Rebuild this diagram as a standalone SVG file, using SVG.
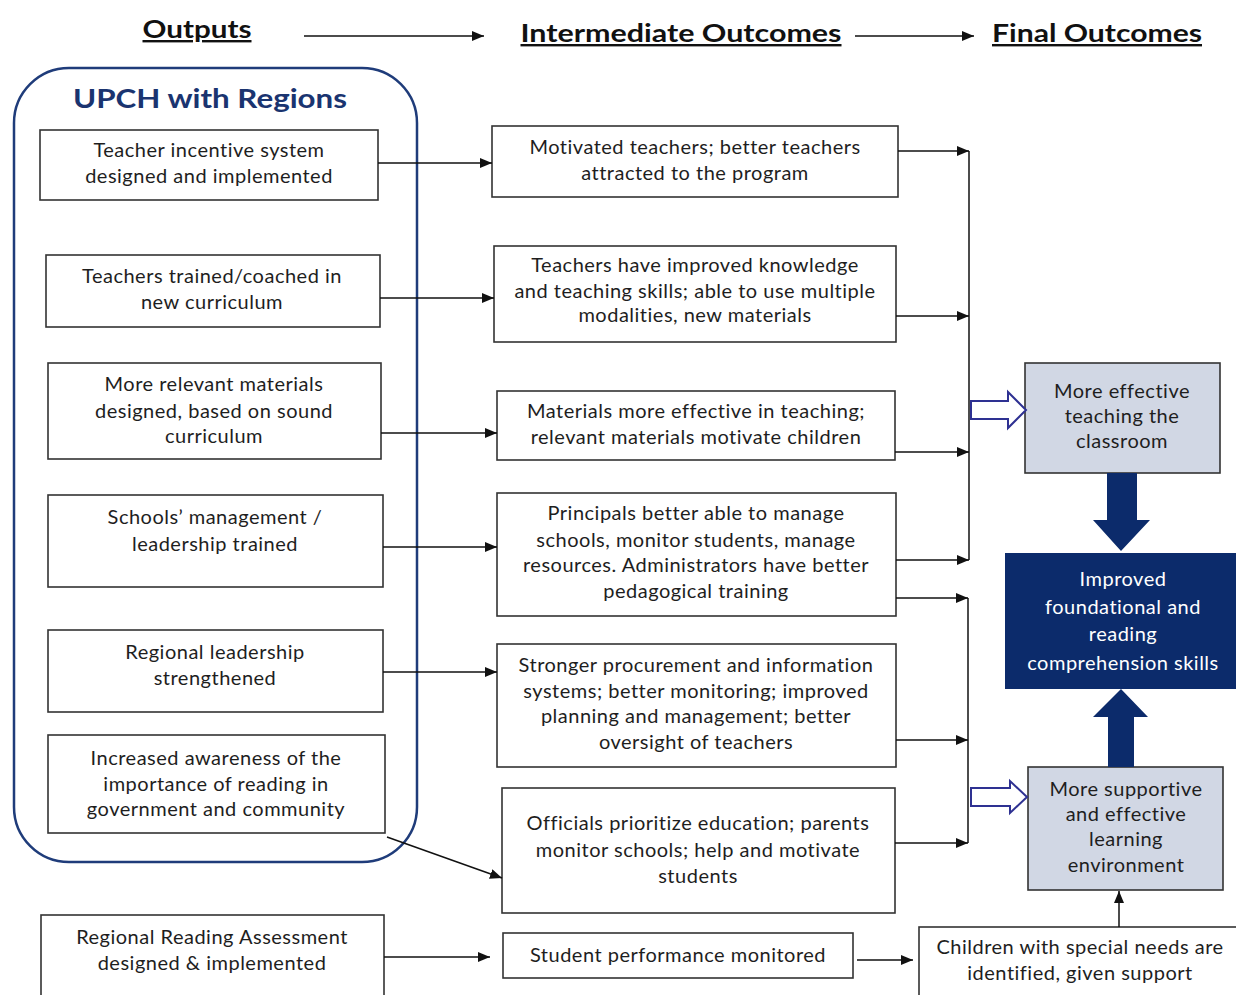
<svg xmlns="http://www.w3.org/2000/svg" width="1236" height="995" viewBox="0 0 1236 995">
<defs>
<marker id="ah" viewBox="0 0 12 10" refX="12" refY="5" markerWidth="12" markerHeight="10" markerUnits="userSpaceOnUse" orient="auto"><path d="M0,0 L12,5 L0,10 z" fill="#111"/></marker>
<style>
.box{fill:#fff;stroke:#333;stroke-width:1.6}
.t{font-family:Lato,"Open Sans","Liberation Sans",sans-serif;font-size:20px;letter-spacing:0.5px;fill:#1e1e1e;text-anchor:middle}
.hd{font-family:Lato,"Open Sans","Liberation Sans",sans-serif;font-size:24px;font-weight:bold;fill:#111;text-anchor:middle;text-decoration:underline}
.c{stroke:#111;stroke-width:1.5;fill:none;marker-end:url(#ah)}
.bus{stroke:#111;stroke-width:1.5;fill:none}
.fin{fill:#d1d7e4;stroke:#333;stroke-width:1.6}
.dark{fill:#0c2b6b}
.hollow{fill:#fff;stroke:#2e3192;stroke-width:2}
.w{fill:#fff}
</style>
</defs>
<rect width="1236" height="995" fill="#fff"/>

<g id="headers">
<text class="hd" x="197" y="38" textLength="109" lengthAdjust="spacingAndGlyphs">Outputs</text>
<text class="hd" x="681" y="42" textLength="321" lengthAdjust="spacingAndGlyphs">Intermediate Outcomes</text>
<text class="hd" x="1097" y="42" textLength="210" lengthAdjust="spacingAndGlyphs">Final Outcomes</text>
</g>

<g id="upch">
<rect x="14" y="68" width="403" height="794" rx="55" ry="55" fill="none" stroke="#1f3c7a" stroke-width="2.5"/>
<text x="210" y="108" font-family="Lato,'Open Sans','Liberation Sans',sans-serif" font-size="27" font-weight="bold" fill="#1a3470" text-anchor="middle" textLength="274" lengthAdjust="spacingAndGlyphs">UPCH with Regions</text>
</g>

<g id="out1"><rect class="box" x="40" y="130" width="338" height="70"/>
<text class="t" x="209" y="157">Teacher incentive system</text><text class="t" x="209" y="183">designed and implemented</text></g>
<g id="out2"><rect class="box" x="46" y="255" width="334" height="72"/>
<text class="t" x="212" y="283">Teachers trained/coached in</text><text class="t" x="212" y="309">new curriculum</text></g>
<g id="out3"><rect class="box" x="48" y="363" width="333" height="96"/>
<text class="t" x="214" y="391">More relevant materials</text><text class="t" x="214" y="418">designed, based on sound</text><text class="t" x="214" y="443">curriculum</text></g>
<g id="out4"><rect class="box" x="48" y="495" width="335" height="92"/>
<text class="t" x="215" y="524">Schools’ management /</text><text class="t" x="215" y="551">leadership trained</text></g>
<g id="out5"><rect class="box" x="48" y="630" width="335" height="82"/>
<text class="t" x="215" y="659">Regional leadership</text><text class="t" x="215" y="685">strengthened</text></g>
<g id="out6"><rect class="box" x="48" y="735" width="337" height="98"/>
<text class="t" x="216" y="765">Increased awareness of the</text><text class="t" x="216" y="791">importance of reading in</text><text class="t" x="216" y="816">government and community</text></g>
<g id="out7"><rect class="box" x="41" y="915" width="343" height="100"/>
<text class="t" x="212" y="944">Regional Reading Assessment</text><text class="t" x="212" y="970">designed &amp; implemented</text></g>

<g id="mid1"><rect class="box" x="492" y="126" width="406" height="71"/>
<text class="t" x="695" y="154">Motivated teachers; better teachers</text><text class="t" x="695" y="180">attracted to the program</text></g>
<g id="mid2"><rect class="box" x="494" y="246" width="402" height="96"/>
<text class="t" x="695" y="272">Teachers have improved knowledge</text><text class="t" x="695" y="298">and teaching skills; able to use multiple</text><text class="t" x="695" y="322">modalities, new materials</text></g>
<g id="mid3"><rect class="box" x="497" y="391" width="398" height="69"/>
<text class="t" x="696" y="418">Materials more effective in teaching;</text><text class="t" x="696" y="444">relevant materials motivate children</text></g>
<g id="mid4"><rect class="box" x="497" y="493" width="399" height="123"/>
<text class="t" x="696" y="520">Principals better able to manage</text><text class="t" x="696" y="547">schools, monitor students, manage</text><text class="t" x="696" y="572">resources. Administrators have better</text><text class="t" x="696" y="598">pedagogical training</text></g>
<g id="mid5"><rect class="box" x="497" y="644" width="399" height="123"/>
<text class="t" x="696" y="672">Stronger procurement and information</text><text class="t" x="696" y="698">systems; better monitoring; improved</text><text class="t" x="696" y="723">planning and management; better</text><text class="t" x="696" y="749">oversight of teachers</text></g>
<g id="mid6"><rect class="box" x="502" y="788" width="393" height="125"/>
<text class="t" x="698" y="830">Officials prioritize education; parents</text><text class="t" x="698" y="857">monitor schools; help and motivate</text><text class="t" x="698" y="883">students</text></g>
<g id="mid7"><rect class="box" x="503" y="933" width="350" height="45"/>
<text class="t" x="678" y="962">Student performance monitored</text></g>

<g id="fin1"><rect class="fin" x="1025" y="363" width="195" height="110"/>
<text class="t" x="1122" y="398">More effective</text><text class="t" x="1122" y="423">teaching the</text><text class="t" x="1122" y="448">classroom</text></g>
<g id="fin2"><rect class="dark" x="1005" y="553" width="233" height="136"/>
<text class="t w" x="1123" y="586" style="fill:#fff">Improved</text><text class="t" x="1123" y="614" style="fill:#fff">foundational and</text><text class="t" x="1123" y="641" style="fill:#fff">reading</text><text class="t" x="1123" y="670" style="fill:#fff">comprehension skills</text></g>
<g id="fin3"><rect class="fin" x="1028" y="767" width="195" height="123"/>
<text class="t" x="1126" y="796">More supportive</text><text class="t" x="1126" y="821">and effective</text><text class="t" x="1126" y="846">learning</text><text class="t" x="1126" y="872">environment</text></g>
<g id="children"><rect class="box" x="919" y="927" width="330" height="80"/>
<text class="t" x="1080" y="954">Children with special needs are</text><text class="t" x="1080" y="980">identified, given support</text></g>

<g id="connectors">
<line class="c" x1="304" y1="36" x2="484" y2="36"/>
<line class="c" x1="855" y1="36" x2="974" y2="36"/>
<line class="c" x1="378" y1="163" x2="492" y2="163"/>
<line class="c" x1="380" y1="298" x2="494" y2="298"/>
<line class="c" x1="381" y1="433" x2="497" y2="433"/>
<line class="c" x1="383" y1="547" x2="497" y2="547"/>
<line class="c" x1="383" y1="672" x2="497" y2="672"/>
<line class="c" x1="387" y1="837" x2="502" y2="878"/>
<line class="c" x1="384" y1="957" x2="490" y2="957"/>
<line class="c" x1="857" y1="960" x2="913" y2="960"/>
<line class="bus" x1="969" y1="151" x2="969" y2="560"/>
<line class="c" x1="898" y1="151" x2="969" y2="151"/>
<line class="c" x1="896" y1="316" x2="969" y2="316"/>
<line class="c" x1="895" y1="452" x2="969" y2="452"/>
<line class="c" x1="896" y1="560" x2="969" y2="560"/>
<line class="bus" x1="968" y1="598" x2="968" y2="843"/>
<line class="c" x1="896" y1="598" x2="968" y2="598"/>
<line class="c" x1="896" y1="740" x2="968" y2="740"/>
<line class="c" x1="895" y1="843" x2="968" y2="843"/>
<line class="c" x1="1119" y1="927" x2="1119" y2="891"/>
<path class="hollow" d="M971,401 L1008,401 L1008,392 L1026,410 L1008,428 L1008,419 L971,419 Z"/>
<path class="hollow" d="M971,788 L1010,788 L1010,781 L1027,797 L1010,813 L1010,806 L971,806 Z"/>
<path class="dark" d="M1107,473 L1137,473 L1137,520 L1150,520 L1121,551 L1093,520 L1107,520 Z"/>
<path class="dark" d="M1108,767 L1134,767 L1134,717 L1148,717 L1121,689 L1093,717 L1108,717 Z"/>
</g>
</svg>
